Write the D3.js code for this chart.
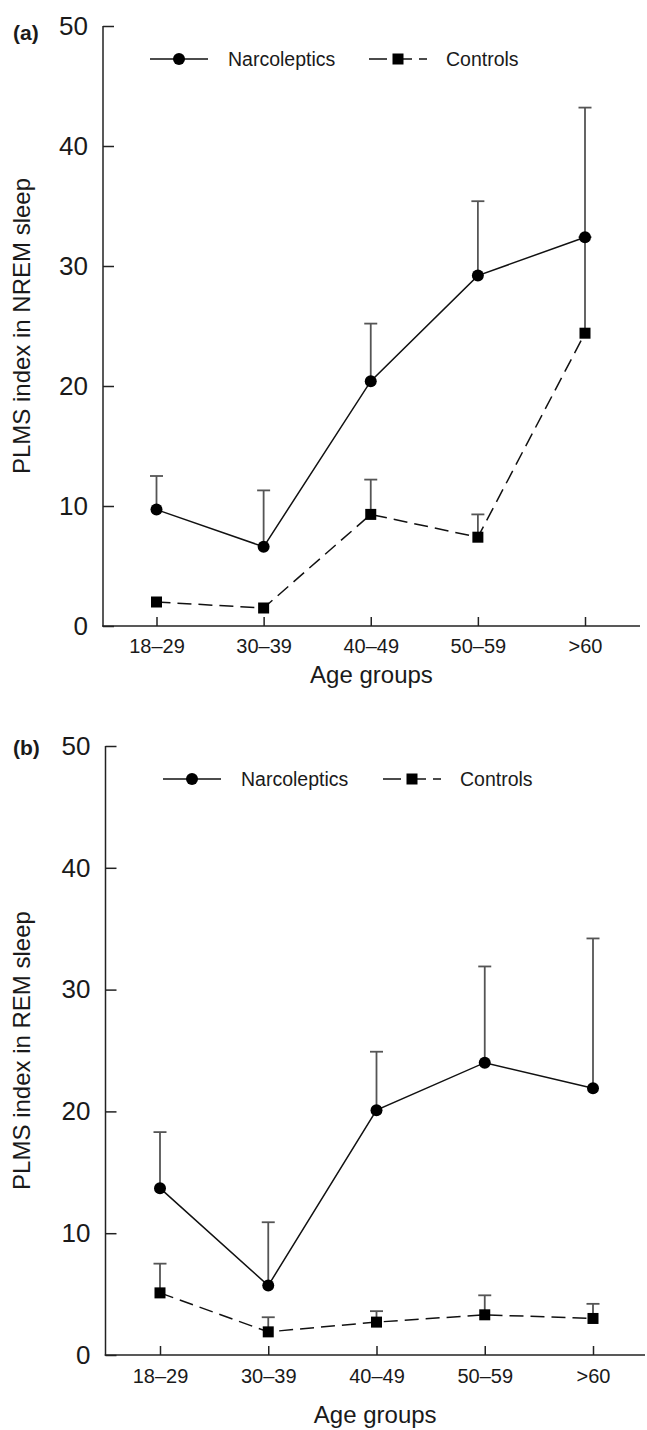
<!DOCTYPE html>
<html>
<head>
<meta charset="utf-8">
<script src="https://cdn.jsdelivr.net/npm/d3@7"></script>
<style>
  html, body { margin: 0; padding: 0; background: #fff; }
  svg { display: block; font-family: "Liberation Sans", Arial, Helvetica, sans-serif; }
</style>
</head>
<body>
<svg id="chart" width="647" height="1430"></svg>
<script>
// ---- Data ----
const categories = ["18\u201329", "30\u201339", "40\u201349", "50\u201359", ">60"];
const yTicks = [0, 10, 20, 30, 40, 50];

// Panel (a): PLMS index in NREM sleep
const nremNarcoleptics    = [9.7, 6.6, 20.4, 29.2, 32.4];
const nremNarcolepticsErr = [2.8, 4.7, 4.8, 6.2, 10.8];
const nremControls        = [2.0, 1.5, 9.3, 7.4, 24.4];
const nremControlsErr     = [0, 0, 2.9, 1.9, 8.0];

// Panel (b): PLMS index in REM sleep
const remNarcoleptics    = [13.7, 5.7, 20.1, 24.0, 21.9];
const remNarcolepticsErr = [4.6, 5.2, 4.8, 7.9, 12.3];
const remControls        = [5.1, 1.9, 2.7, 3.3, 3.0];
const remControlsErr     = [2.4, 1.2, 0.9, 1.6, 1.2];

const seriesNames = ["Narcoleptics", "Controls"];

// ---- Drawing ----
const svg = d3.select("#chart");
svg.append("rect").attr("width", 647).attr("height", 1430).attr("fill", "#fff");

const TEXT = "#1a1a1a";
const LINE = "#111";
const ERR = "#555";

function drawPanel(cfg) {
  const g = svg.append("g");
  const x = d3.scalePoint().domain(categories).range([cfg.xFirst, cfg.xLast]);
  const y = d3.scaleLinear().domain([0, 50]).range([cfg.yBottom, cfg.yTop]);

  // y axis (inward ticks)
  const yAxis = d3.axisLeft(y).tickValues(yTicks).tickSizeInner(-11).tickSizeOuter(0).tickPadding(15);
  const ya = g.append("g").attr("transform", `translate(${cfg.xAxis},0)`).call(yAxis);
  ya.select(".domain").remove();
  ya.selectAll(".tick line").attr("stroke", "#222").attr("stroke-width", 1.5);
  ya.selectAll(".tick text").attr("font-size", 26).attr("fill", TEXT)
    .attr("font-family", '"Liberation Sans", Arial, sans-serif');
  g.append("line").attr("x1", cfg.xAxis).attr("x2", cfg.xAxis)
    .attr("y1", y(50)).attr("y2", y(0) + 0.75).attr("stroke", "#222").attr("stroke-width", 1.5);

  // x axis (inward ticks)
  const xAxis = d3.axisBottom(x).tickSizeInner(-9).tickSizeOuter(0).tickPadding(cfg.xTickPad);
  const xa = g.append("g").attr("transform", `translate(0,${cfg.yBottom})`).call(xAxis);
  xa.select(".domain").remove();
  xa.selectAll(".tick line").attr("stroke", "#222").attr("stroke-width", 1.5);
  xa.selectAll(".tick text").attr("font-size", 20).attr("fill", TEXT)
    .attr("font-family", '"Liberation Sans", Arial, sans-serif');
  g.append("line").attr("x1", cfg.xAxis - 0.75).attr("x2", cfg.xRight)
    .attr("y1", cfg.yBottom).attr("y2", cfg.yBottom).attr("stroke", "#222").attr("stroke-width", 1.5);

  // axis titles
  g.append("text").attr("x", (cfg.xAxis + cfg.xRight) / 2).attr("y", cfg.xTitleY)
    .attr("text-anchor", "middle").attr("font-size", 24).attr("fill", TEXT).text("Age groups");
  g.append("text")
    .attr("transform", `translate(${cfg.yTitleX},${(y(0) + y(50)) / 2}) rotate(-90)`)
    .attr("text-anchor", "middle").attr("font-size", 24).attr("fill", TEXT).text(cfg.yTitle);

  // panel label
  g.append("text").attr("x", 13).attr("y", cfg.labelY).attr("font-size", 21)
    .attr("font-weight", "bold").attr("fill", TEXT).text(cfg.label);

  const series = [
    { vals: cfg.narco, err: cfg.narcoErr, dash: null, shape: "circle" },
    { vals: cfg.ctrl, err: cfg.ctrlErr, dash: "14,7", shape: "square" }
  ];

  // error bars (upper only)
  series.forEach(s => {
    s.vals.forEach((v, i) => {
      if (!s.err[i]) return;
      const cx = x(categories[i]);
      const top = y(v + s.err[i]);
      g.append("line").attr("x1", cx).attr("x2", cx).attr("y1", y(v)).attr("y2", top)
        .attr("stroke", ERR).attr("stroke-width", 1.8);
      g.append("line").attr("x1", cx - 6.5).attr("x2", cx + 6.5).attr("y1", top).attr("y2", top)
        .attr("stroke", ERR).attr("stroke-width", 1.8);
    });
  });

  // lines
  const lineGen = d3.line().x((d, i) => x(categories[i])).y(d => y(d));
  series.forEach(s => {
    g.append("path").attr("d", lineGen(s.vals)).attr("fill", "none")
      .attr("stroke", LINE).attr("stroke-width", 1.5)
      .attr("stroke-dasharray", s.dash);
  });

  // markers
  series.forEach(s => {
    s.vals.forEach((v, i) => {
      const cx = x(categories[i]), cy = y(v);
      if (s.shape === "circle") {
        g.append("circle").attr("cx", cx).attr("cy", cy).attr("r", 6).attr("fill", "#000");
      } else {
        g.append("rect").attr("x", cx - 5.5).attr("y", cy - 5.5).attr("width", 11).attr("height", 11).attr("fill", "#000");
      }
    });
  });

  // legend
  const ly = cfg.legendY;
  const L = cfg.legend;
  g.append("line").attr("x1", L.n0).attr("x2", L.n0 + 58).attr("y1", ly).attr("y2", ly)
    .attr("stroke", LINE).attr("stroke-width", 1.5);
  g.append("circle").attr("cx", L.n0 + 29).attr("cy", ly).attr("r", 6).attr("fill", "#000");
  g.append("text").attr("x", L.n0 + 78).attr("y", ly + 7).attr("font-size", 19.5)
    .attr("fill", TEXT).text(seriesNames[0]);
  g.append("line").attr("x1", L.c0).attr("x2", L.c0 + 58).attr("y1", ly).attr("y2", ly)
    .attr("stroke", LINE).attr("stroke-width", 1.5).attr("stroke-dasharray", "18,7");
  g.append("rect").attr("x", L.c0 + 29 - 5.5).attr("y", ly - 5.5).attr("width", 11).attr("height", 11).attr("fill", "#000");
  g.append("text").attr("x", L.c0 + 77).attr("y", ly + 7).attr("font-size", 19.5)
    .attr("fill", TEXT).text(seriesNames[1]);
}

drawPanel({
  label: "(a)", labelY: 40,
  yTitle: "PLMS index in NREM sleep", yTitleX: 30,
  xAxis: 103, xRight: 640, xFirst: 156.5, xLast: 585,
  yTop: 26, yBottom: 626,
  xTickPad: 13, xTitleY: 683,
  legendY: 59, legend: { n0: 150, c0: 369 },
  narco: nremNarcoleptics, narcoErr: nremNarcolepticsErr,
  ctrl: nremControls, ctrlErr: nremControlsErr
});

drawPanel({
  label: "(b)", labelY: 755,
  yTitle: "PLMS index in REM sleep", yTitleX: 30,
  xAxis: 105.5, xRight: 645, xFirst: 160, xLast: 593,
  yTop: 746, yBottom: 1355,
  xTickPad: 14, xTitleY: 1423,
  legendY: 779, legend: { n0: 163, c0: 383 },
  narco: remNarcoleptics, narcoErr: remNarcolepticsErr,
  ctrl: remControls, ctrlErr: remControlsErr
});
</script>
</body>
</html>
